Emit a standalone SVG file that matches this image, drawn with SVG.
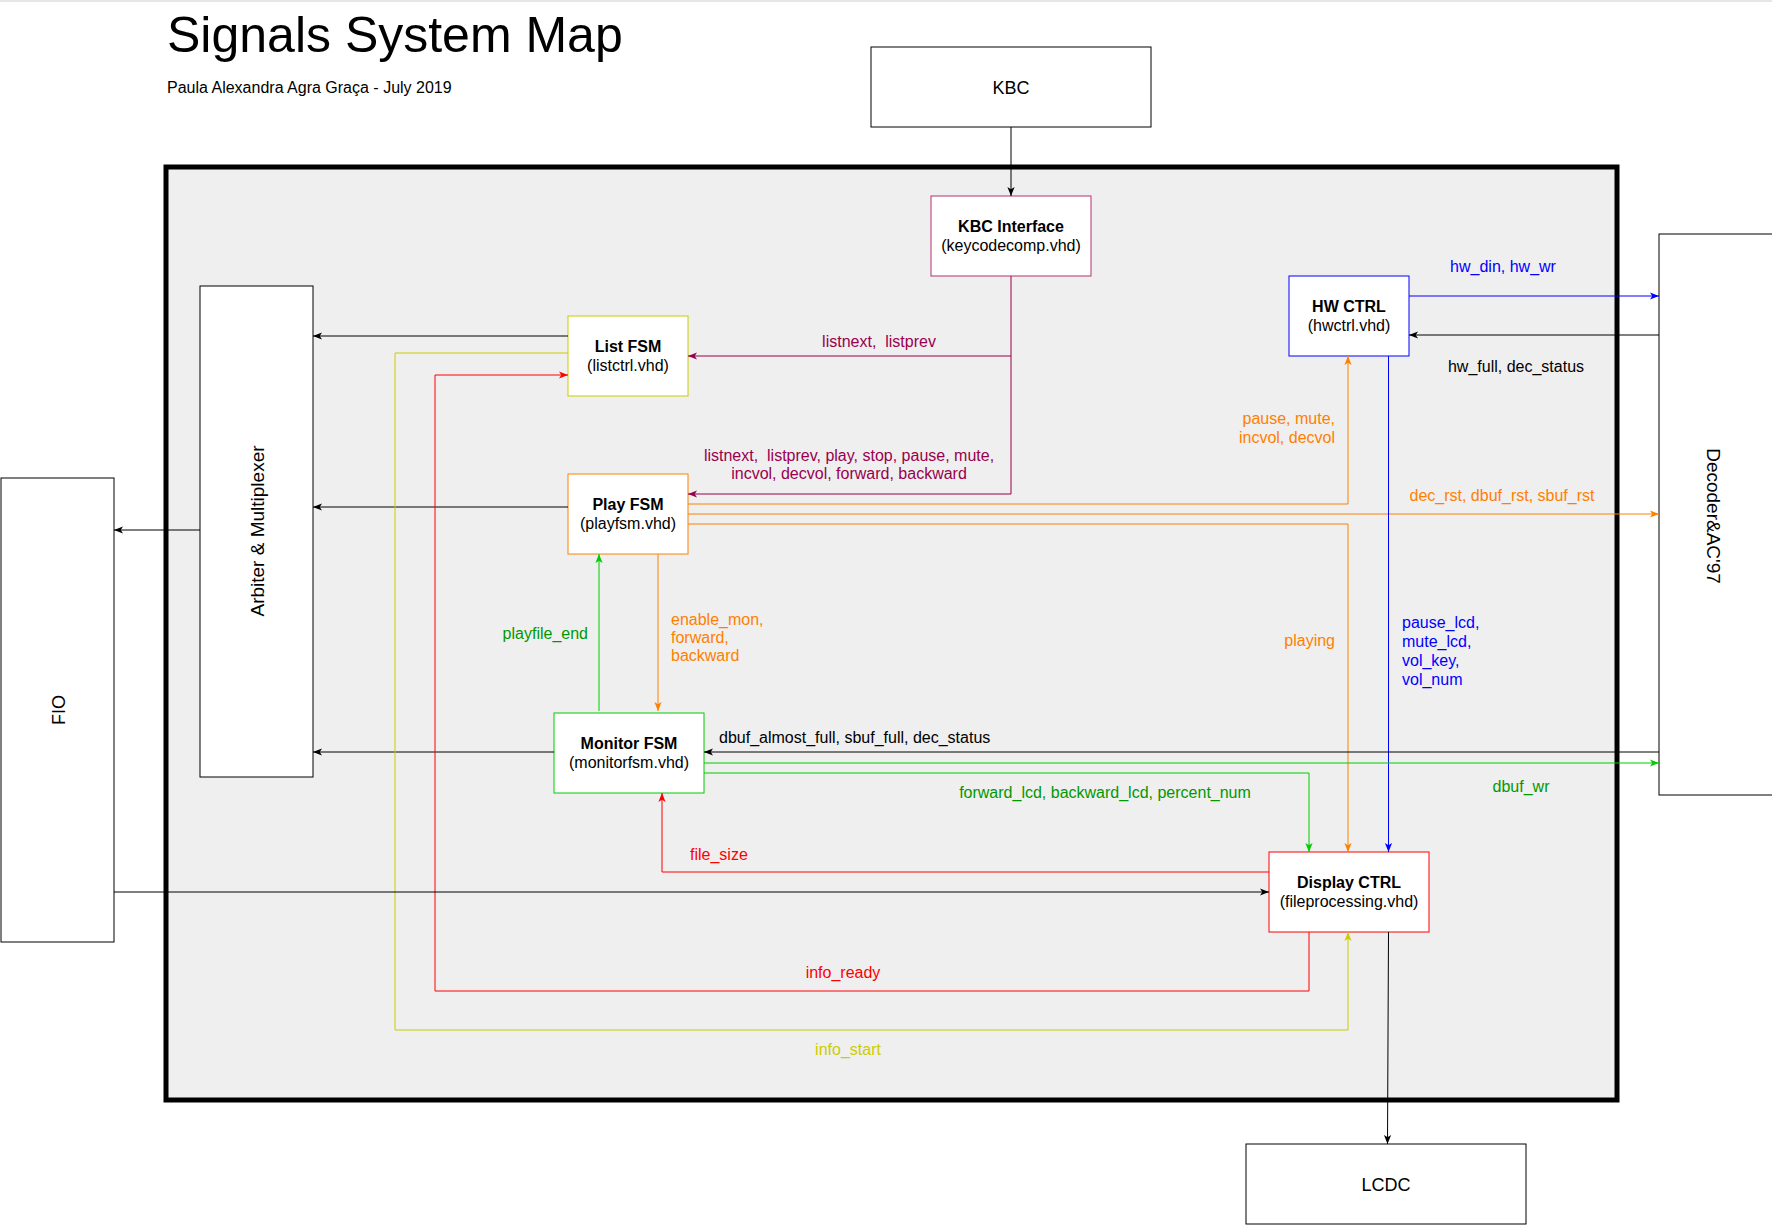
<svg xmlns="http://www.w3.org/2000/svg" width="1772" height="1226" viewBox="0 0 1772 1226">
<style>
text{font-family:"Liberation Sans",Arial,Helvetica,sans-serif;font-size:16px;fill:#000}
.t{font-weight:bold}
.m{text-anchor:middle}
.e{text-anchor:end}
.big{font-size:18px}
.rot{font-size:19px}
.box{fill:#fff;stroke:#000;stroke-width:1}
.ln{fill:none;stroke-width:1}
.k{stroke:#000}.pu{stroke:#99004D}.ye{stroke:#CCCC00}.or{stroke:#FF8000}.gr{stroke:#00CC00}.re{stroke:#FF0000}.bl{stroke:#0000FF}
.tpu{fill:#99004D}.tye{fill:#CCCC00}.tor{fill:#FF8000}.tgr{fill:#009900}.tre{fill:#FF0000}.tbl{fill:#0000FF}
</style>
<defs>
<marker id="ak" viewBox="0 0 10 10" refX="10" refY="5" markerWidth="9" markerHeight="9" markerUnits="userSpaceOnUse" orient="auto"><path d="M0,1 L10,5 L0,9 L2.5,5 z" fill="#000"/></marker>
<marker id="apu" viewBox="0 0 10 10" refX="10" refY="5" markerWidth="9" markerHeight="9" markerUnits="userSpaceOnUse" orient="auto"><path d="M0,1 L10,5 L0,9 L2.5,5 z" fill="#99004D"/></marker>
<marker id="aye" viewBox="0 0 10 10" refX="10" refY="5" markerWidth="9" markerHeight="9" markerUnits="userSpaceOnUse" orient="auto"><path d="M0,1 L10,5 L0,9 L2.5,5 z" fill="#CCCC00"/></marker>
<marker id="aor" viewBox="0 0 10 10" refX="10" refY="5" markerWidth="9" markerHeight="9" markerUnits="userSpaceOnUse" orient="auto"><path d="M0,1 L10,5 L0,9 L2.5,5 z" fill="#FF8000"/></marker>
<marker id="agr" viewBox="0 0 10 10" refX="10" refY="5" markerWidth="9" markerHeight="9" markerUnits="userSpaceOnUse" orient="auto"><path d="M0,1 L10,5 L0,9 L2.5,5 z" fill="#00CC00"/></marker>
<marker id="are" viewBox="0 0 10 10" refX="10" refY="5" markerWidth="9" markerHeight="9" markerUnits="userSpaceOnUse" orient="auto"><path d="M0,1 L10,5 L0,9 L2.5,5 z" fill="#FF0000"/></marker>
<marker id="abl" viewBox="0 0 10 10" refX="10" refY="5" markerWidth="9" markerHeight="9" markerUnits="userSpaceOnUse" orient="auto"><path d="M0,1 L10,5 L0,9 L2.5,5 z" fill="#0000FF"/></marker>
</defs>
<rect x="0" y="0" width="1772" height="1226" fill="#fff"/>
<rect x="0" y="0" width="1772" height="2" fill="#e6e6e6"/>

<g id="header">
<text x="167" y="52" style="font-size:50px">Signals System Map</text>
<text x="167" y="93">Paula Alexandra Agra Graça - July 2019</text>
</g>

<g id="system-frame">
<rect x="166" y="167" width="1451" height="933" fill="#efefef" stroke="#000" stroke-width="5"/>
</g>

<g id="kbc"><rect class="box" x="871" y="47" width="280" height="80"/><text class="m big" x="1011" y="94">KBC</text></g>
<g id="lcdc"><rect class="box" x="1246" y="1144" width="280" height="80"/><text class="m big" x="1386" y="1191">LCDC</text></g>
<g id="fio"><rect class="box" x="1" y="478" width="113" height="464"/><text class="m big" transform="translate(58,710) rotate(-90)" y="6.5">FIO</text></g>
<g id="decoder"><rect class="box" x="1659" y="234" width="130" height="561"/><text class="m rot" transform="translate(1714,516) rotate(90)" y="7">Decoder&amp;AC'97</text></g>
<g id="arbiter"><rect class="box" x="200" y="286" width="113" height="491"/><text class="m rot" transform="translate(256.5,531) rotate(-90)" y="7">Arbiter &amp; Multiplexer</text></g>

<g id="kbc-interface"><rect x="931" y="196" width="160" height="80" fill="#fff" stroke="#B5306E"/><text class="m t" x="1011" y="232">KBC Interface</text><text class="m" x="1011" y="251">(keycodecomp.vhd)</text></g>
<g id="hw-ctrl"><rect x="1289" y="276" width="120" height="80" fill="#fff" stroke="#0000FF"/><text class="m t" x="1349" y="312">HW CTRL</text><text class="m" x="1349" y="331">(hwctrl.vhd)</text></g>
<g id="list-fsm"><rect x="568" y="316" width="120" height="80" fill="#fff" stroke="#CCCC00"/><text class="m t" x="628" y="352">List FSM</text><text class="m" x="628" y="371">(listctrl.vhd)</text></g>
<g id="play-fsm"><rect x="568" y="474" width="120" height="80" fill="#fff" stroke="#FF8000"/><text class="m t" x="628" y="510">Play FSM</text><text class="m" x="628" y="529">(playfsm.vhd)</text></g>
<g id="monitor-fsm"><rect x="554" y="713" width="150" height="80" fill="#fff" stroke="#00CC00"/><text class="m t" x="629" y="749">Monitor FSM</text><text class="m" x="629" y="768">(monitorfsm.vhd)</text></g>
<g id="display-ctrl"><rect x="1269" y="852" width="160" height="80" fill="#fff" stroke="#FF0000"/><text class="m t" x="1349" y="888">Display CTRL</text><text class="m" x="1349" y="907">(fileprocessing.vhd)</text></g>

<g id="connectors">
<path class="ln k" d="M1011,127 V196" marker-end="url(#ak)"/>
<path class="ln pu" d="M1011,276 V356 H688" marker-end="url(#apu)"/>
<path class="ln pu" d="M1011,356 V494 H688" marker-end="url(#apu)"/>
<path class="ln k" d="M568,336 H313" marker-end="url(#ak)"/>
<path class="ln k" d="M568,507 H313" marker-end="url(#ak)"/>
<path class="ln k" d="M554,752 H313" marker-end="url(#ak)"/>
<path class="ln k" d="M200,530 H114" marker-end="url(#ak)"/>
<path class="ln ye" d="M568,353 H395 V1030 H1348 V932" marker-end="url(#aye)"/>
<path class="ln re" d="M1309,932 V991 H435 V375 H568" marker-end="url(#are)"/>
<path class="ln re" d="M1269,872 H662 V793" marker-end="url(#are)"/>
<path class="ln k" d="M114,892 H1269" marker-end="url(#ak)"/>
<path class="ln gr" d="M599,711 V554" marker-end="url(#agr)"/>
<path class="ln or" d="M658,554 V711" marker-end="url(#aor)"/>
<path class="ln or" d="M688,504 H1348 V356" marker-end="url(#aor)"/>
<path class="ln or" d="M688,514 H1659" marker-end="url(#aor)"/>
<path class="ln or" d="M688,524 H1348 V852" marker-end="url(#aor)"/>
<path class="ln bl" d="M1409,296 H1659" marker-end="url(#abl)"/>
<path class="ln k" d="M1659,335 H1409" marker-end="url(#ak)"/>
<path class="ln bl" d="M1388.5,356 V852" marker-end="url(#abl)"/>
<path class="ln k" d="M1659,752 H704" marker-end="url(#ak)"/>
<path class="ln gr" d="M704,763 H1659" marker-end="url(#agr)"/>
<path class="ln gr" d="M704,773 H1309 V852" marker-end="url(#agr)"/>
<path class="ln k" d="M1388.5,932 L1387.5,1144" marker-end="url(#ak)"/>
</g>

<g id="labels">
<text class="m tpu" x="879" y="347" xml:space="preserve">listnext,  listprev</text>
<text class="m tpu" x="849" y="461" xml:space="preserve">listnext,  listprev, play, stop, pause, mute,</text>
<text class="m tpu" x="849" y="479">incvol, decvol, forward, backward</text>
<text class="e tor" x="1335" y="424">pause, mute,</text>
<text class="e tor" x="1335" y="443">incvol, decvol</text>
<text class="m tor" x="1502" y="501">dec_rst, dbuf_rst, sbuf_rst</text>
<text class="m tbl" x="1503" y="272">hw_din, hw_wr</text>
<text class="m" x="1516" y="372">hw_full, dec_status</text>
<text class="e tgr" x="588" y="639">playfile_end</text>
<text class="tor" x="671" y="625">enable_mon,</text>
<text class="tor" x="671" y="643">forward,</text>
<text class="tor" x="671" y="661">backward</text>
<text class="e tor" x="1335" y="646">playing</text>
<text class="tbl" x="1402" y="628">pause_lcd,</text>
<text class="tbl" x="1402" y="647">mute_lcd,</text>
<text class="tbl" x="1402" y="666">vol_key,</text>
<text class="tbl" x="1402" y="685">vol_num</text>
<text x="719" y="743">dbuf_almost_full, sbuf_full, dec_status</text>
<text class="m tgr" x="1105" y="798">forward_lcd, backward_lcd, percent_num</text>
<text class="m tgr" x="1521" y="792">dbuf_wr</text>
<text class="tre" x="690" y="860">file_size</text>
<text class="m tre" x="843" y="978">info_ready</text>
<text class="m tye" x="848" y="1055">info_start</text>
</g>
</svg>
